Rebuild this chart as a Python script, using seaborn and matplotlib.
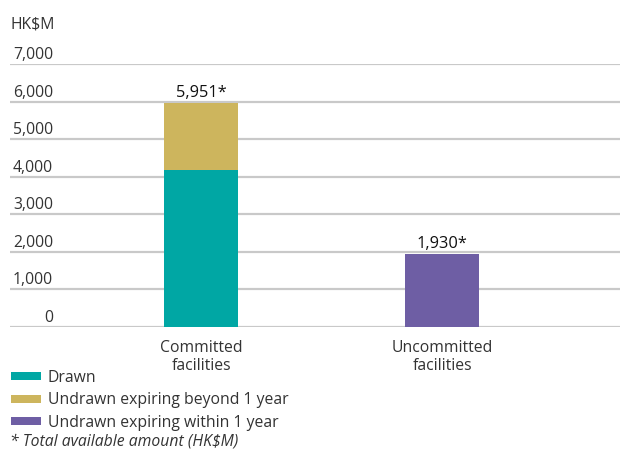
import matplotlib
matplotlib.use("Agg")
import matplotlib.pyplot as plt
from matplotlib.patches import Patch
import seaborn as sns
import pandas as pd

# Banking facilities (HK$M)
categories = ["Committed\nfacilities", "Uncommitted\nfacilities"]
drawn = [4180, 0]
undrawn_beyond_1y = [1771, 0]
undrawn_within_1y = [0, 1930]
total_labels = ["5,951*", "1,930*"]
yticks = [0, 1000, 2000, 3000, 4000, 5000, 6000, 7000]
series_names = ["Drawn", "Undrawn expiring beyond 1 year", "Undrawn expiring within 1 year"]
colors = ["#00a7a4", "#cdb55d", "#6e5ea4"]
text_color = "#333333"
fs = 11.3

sns.set_theme(style="white")
plt.rcParams["font.family"] = ["Open Sans", "DejaVu Sans"]

df = pd.DataFrame({
    "category": categories,
    "drawn": drawn,
    "beyond": undrawn_beyond_1y,
    "within": undrawn_within_1y,
})
df["base_within"] = df["drawn"] + df["beyond"]
df["total"] = df["drawn"] + df["beyond"] + df["within"]

fig = plt.figure(figsize=(6.2, 4.5), dpi=100)
ax = fig.add_axes([10 / 620, 1 - 327 / 450, 611 / 620, 263 / 450])

# gridlines under the bars
for v in yticks:
    ax.axhline(v, color="#c9c9c9", lw=1.6, zorder=0)

bw = 0.307
bar_kw = dict(width=bw, saturation=1, ax=ax, zorder=2, edgecolor="none", linewidth=0)
sns.barplot(data=df, x="category", y="drawn", color=colors[0], bottom=0, **bar_kw)
sns.barplot(data=df, x="category", y="beyond", color=colors[1],
            bottom=df["drawn"].values, **bar_kw)
sns.barplot(data=df, x="category", y="within", color=colors[2],
            bottom=df["base_within"].values, **bar_kw)

for i, (tot, lab) in enumerate(zip(df["total"], total_labels)):
    ax.text(i, tot + 70, lab, ha="center", va="bottom", fontsize=fs + 0.5,
            fontweight="medium", color="#111111")

ax.set_ylim(0, 7000)
ax.set_xlim(-0.793, 1.742)
ax.set_yticks([])
ax.set_xticks([0, 1])
ax.set_xticklabels(categories, fontsize=fs, color=text_color, linespacing=1.2)
ax.tick_params(axis="x", length=0, pad=9)
ax.set_xlabel("")
ax.set_ylabel("")
for s in ax.spines.values():
    s.set_visible(False)

# y tick labels sit above their gridlines, right-aligned
for v in yticks:
    ax.annotate(f"{v:,}", xy=(0, v), xycoords=("axes fraction", "data"),
                xytext=(43, 1), textcoords="offset pixels", ha="right", va="bottom",
                fontsize=fs, color=text_color)

fig.text(10 / 620, 1 - 25 / 450, "HK$M", fontsize=fs, color=text_color,
         ha="left", va="center")

handles = [Patch(facecolor=c, edgecolor="none") for c in colors]
fig.legend(handles, series_names, loc="upper left",
           bbox_to_anchor=(0 / 620, 1 - 359 / 450), frameon=False,
           fontsize=fs, handlelength=1.9, handleheight=0.42,
           handletextpad=0.45, labelspacing=0.4, borderpad=0.2,
           labelcolor=text_color)

fig.text(10 / 620, 1 - 441 / 450, "* Total available amount (HK$M)",
         fontsize=fs, style="italic", color=text_color, ha="left", va="center")

fig.savefig("out.png", dpi=100)
